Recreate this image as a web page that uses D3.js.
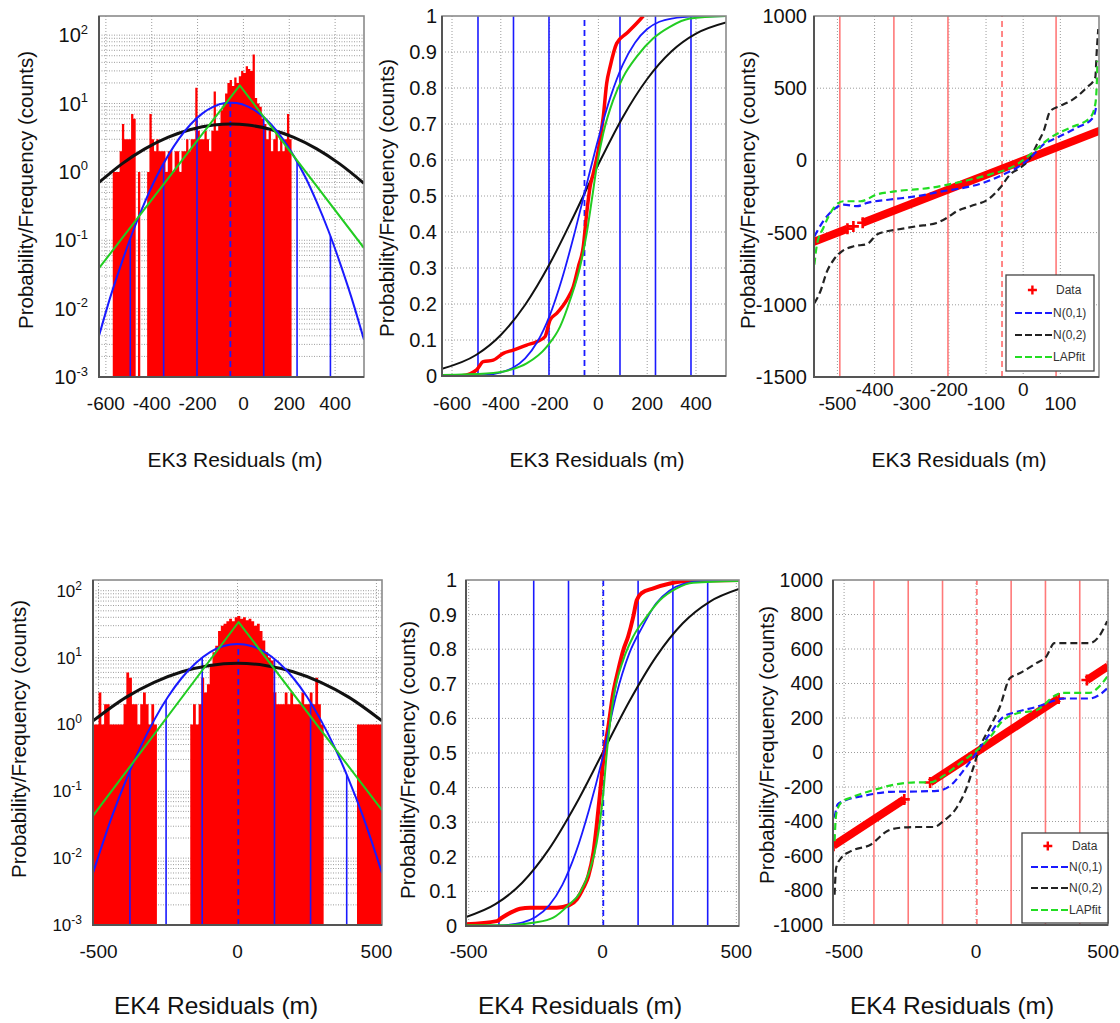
<!DOCTYPE html>
<html>
<head>
<meta charset="utf-8">
<script src="https://cdn.jsdelivr.net/npm/d3@7"></script>
<style>
  body { margin: 0; background: #fff; }
  svg { display: block; font-family: "Liberation Sans", Arial, sans-serif; }
</style>
</head>
<body>
<svg id="fig" width="1120" height="1023"></svg>
<script>
// ---------------- data ----------------

// Residual histograms, counts per 10 m bin
const histBinWidth = 10;
const ek3HistStart = -570;
const ek3Counts = [1,1,1,2,5,3,3,3,7,6, 0,1,0,0,0,1,7,3,2,3, 2,2,2,1,2,2,1,2,2,1,
                   2,2,3,2,3,3,17,4,3,3, 4,3,2,4,15,4,5,8,10,14, 20,22,18,24,20,25,30,28,35,32,
                   30,52,12,10,9,6,5,3,4,2, 3,4,2,3,2,3,7,3];
const ek4HistStart = -520;
const ek4Counts = [1,1,3,1,2,2,1,1,1,1, 1,2,6,5,2,2,1,2,3,2, 1,2,1,
                   0,0,0,0,0,0,0,0,0,0,0,0,
                   1,2,1,2,5,3,4,8,12,15, 25,30,32,35,38,35,40,42,38,40,
                   36,38,35,30,32,25,18,12,10,9, 3,2,2,2,3,2,3,2,2,2, 3,2,2,3,2,5,2,1,
                   0,0,0,0,0,0,0,0,0,0,0,0,
                   1,1,1,1,1,1,1,1,1];

// Sample statistics (m)
const ek3Mean = -57, ek3Sd = 145.5;
const ek4Mean = 3,   ek4Sd = 130;
const sigmaSteps = [-3, -2, -1, 0, 1, 2, 3];

// EK3 fitted densities (counts)
const ek3Norm1X = [-630,-580,-530,-480,-430,-380,-330,-280,-230,-180,-130,-80,-55,-30,20,70,120,170,220,270,320,370,420,470,526];
const ek3Norm1Y = [0.004,0.015,0.048,0.14,0.36,0.84,1.7,3.09,4.97,7.11,9.01,10.15,10.3,10.15,9.01,7.11,4.97,3.09,1.7,0.84,0.36,0.14,0.048,0.015,0.0035];
const ek3Norm2X = [-630,-530,-430,-330,-230,-130,-55,20,120,220,320,420,526];
const ek3Norm2Y = [0.7,1.31,2.17,3.19,4.17,4.84,5.0,4.84,4.17,3.19,2.17,1.31,0.68];
const ek3LapX = [-630,-16,526];
const ek3LapY = [0.039,18.4,0.077];

// EK3 cumulative distributions
const ek3CdfDataX = [-567,-526,-499,-472,-431,-390,-349,-294,-253,-219,-198,-171,-130,-103,-82,-62,-48,-34,-21,0,20,34,48,75,116,157,184];
const ek3CdfDataY = [0,0.006,0.017,0.04,0.044,0.063,0.072,0.086,0.095,0.109,0.156,0.174,0.211,0.248,0.304,0.359,0.452,0.526,0.563,0.628,0.72,0.813,0.859,0.924,0.952,0.98,1.0];
const ek3CdfNorm1X = [-641,-500,-400,-350,-300,-250,-200,-150,-100,-50,0,50,100,150,200,250,300,400,523];
const ek3CdfNorm1Y = [0,0.001,0.01,0.023,0.049,0.095,0.167,0.268,0.391,0.527,0.66,0.776,0.865,0.926,0.964,0.984,0.993,0.999,1];
const ek3CdfNorm2X = [-641,-500,-400,-300,-200,-100,0,100,200,300,400,523];
const ek3CdfNorm2Y = [0.02,0.059,0.114,0.198,0.311,0.446,0.588,0.719,0.825,0.902,0.951,0.982];
const ek3CdfLapX = [-641,-458,-362,-294,-212,-157,-116,-75,-48,-27,-7,20,61,102,157,225,293,375,523];
const ek3CdfLapY = [0.003,0.007,0.017,0.035,0.081,0.137,0.211,0.304,0.396,0.489,0.581,0.674,0.767,0.831,0.887,0.938,0.97,0.993,1.0];

// EK3 quantile comparison
const ek3DataRuns = [[-565,-473],[-432,208]];
const ek3DataSingles = [-457];
const ek3QN1X = [-562,-538,-510,-484,-447,-420,-358,-287,-215,-161,-107,-53,-17,19,55,91,144,188,198];
const ek3QN1Y = [-526,-421,-340,-306,-317,-294,-271,-248,-213,-190,-155,-97,-51,18,111,157,226,296,389];
const ek3QN2X = [-562,-546,-528,-510,-488,-456,-420,-394,-367,-340,-287,-233,-206,-179,-142,-89,-62,-35,-8,19,37,55,73,99,135,171,194,198,202];
const ek3QN2Y = [-989,-908,-769,-688,-630,-595,-579,-514,-491,-479,-456,-433,-399,-352,-317,-260,-190,-97,-51,18,111,203,342,377,424,504,574,759,910];
const ek3QLapX = [-562,-555,-538,-510,-484,-438,-394,-340,-250,-161,-89,-17,19,73,126,180,194,198,200];
const ek3QLapY = [-722,-583,-468,-329,-283,-283,-236,-213,-190,-144,-97,-28,42,157,226,296,389,528,690];

// EK4 fitted densities (counts)
const ek4Norm1X = [-520,-450,-400,-350,-300,-250,-200,-150,-100,-50,0,50,100,150,200,250,300,350,400,450,520];
const ek4Norm1Y = [0.006,0.044,0.151,0.45,1.16,2.59,4.99,8.3,11.96,14.9,16,14.9,11.96,8.3,4.99,2.59,1.16,0.45,0.151,0.044,0.006];
const ek4Norm2X = [-520,-400,-300,-200,-100,0,100,200,300,400,520];
const ek4Norm2Y = [1.13,2.56,4.26,6.13,7.62,8.2,7.62,6.13,4.26,2.56,1.13];
const ek4LapX = [-520,4,520];
const ek4LapY = [0.043,34,0.052];

// EK4 cumulative distributions
const ek4CdfDataX = [-510,-395,-376,-345,-308,-270,-171,-124,-96,-72,-53,-34,-22,-9,3,22,40,59,78,96,115,128,146,190,252,327,510];
const ek4CdfDataY = [0.005,0.014,0.024,0.038,0.05,0.053,0.053,0.06,0.077,0.11,0.144,0.212,0.288,0.385,0.48,0.577,0.673,0.74,0.798,0.837,0.894,0.942,0.962,0.976,0.99,0.998,1.0];
const ek4CdfNorm1X = [-510,-400,-300,-250,-200,-150,-100,-50,0,50,100,150,200,250,300,400,510];
const ek4CdfNorm1Y = [0,0.001,0.01,0.026,0.059,0.119,0.212,0.337,0.485,0.663,0.788,0.866,0.932,0.969,0.988,0.999,1];
const ek4CdfNorm2X = [-510,-400,-300,-200,-100,0,100,200,300,400,510];
const ek4CdfNorm2Y = [0.026,0.063,0.125,0.222,0.351,0.5,0.649,0.778,0.875,0.937,0.974];
const ek4CdfLapX = [-510,-370,-252,-184,-124,-84,-47,-22,3,16,40,78,115,165,215,277,339,510];
const ek4CdfLapY = [0.002,0.002,0.01,0.024,0.0625,0.096,0.163,0.24,0.385,0.5,0.654,0.77,0.837,0.894,0.942,0.976,0.992,0.997];

// EK4 quantile comparison
const ek4DataRuns = [[-540,-272],[-174,313],[420,500]];
const ek4DataSingles = [];
const ek4QN1X = [-536,-524,-499,-424,-323,-223,-148,-98,-48,3,53,103,153,228,303,328,429,466,497];
const ek4QN1Y = [-378,-300,-280,-251,-228,-226,-222,-193,-105,2,109,206,235,264,304,313,313,333,372];
const ek4QN2X = [-536,-530,-511,-474,-398,-336,-286,-223,-160,-123,-73,-35,-10,15,53,90,128,165,228,266,297,328,429,466,497];
const ek4QN2Y = [-825,-669,-611,-572,-533,-455,-436,-432,-432,-397,-319,-202,-86,31,148,264,430,459,518,556,634,634,634,673,761];
const ek4QLapX = [-536,-530,-511,-474,-398,-298,-223,-173,-123,-48,3,53,103,153,228,303,328,429,466,497];
const ek4QLapY = [-514,-358,-290,-261,-222,-183,-173,-173,-134,-47,12,89,187,226,245,333,346,346,381,440];

// Axis ticks
const logExponents = [-3,-2,-1,0,1,2];
const ek3Ticks = [-600,-400,-200,0,200,400];
const ek3QTicks = [-500,-400,-300,-200,-100,0,100];
const ek4Ticks = [-500,0,500];
const cdfTicks = [0,0.1,0.2,0.3,0.4,0.5,0.6,0.7,0.8,0.9,1];
const ek3QYTicks = [-1500,-1000,-500,0,500,1000];
const ek4QYTicks = [-1000,-800,-600,-400,-200,0,200,400,600,800,1000];
const legendItems = [
  {label: "Data",   color: "#ff0000", kind: "plus"},
  {label: "N(0,1)", color: "#1a1aff", kind: "dash"},
  {label: "N(0,2)", color: "#222222", kind: "dash"},
  {label: "LAPfit", color: "#22dd22", kind: "dash"}
];

// ---------------- drawing helpers ----------------
const svg = d3.select("#fig");
const defs = svg.append("defs");
let clipCount = 0;

const BLUE = "#1a1aff", GREEN = "#22cc22", RED = "#ff0000", BLACK = "#111111";
const GRID = "#9c9c9c";
const PINK = "#ff7a7a";

function panel(box, xDomain, yScale) {
  const x = d3.scaleLinear().domain(xDomain).range([box.l, box.r]);
  const id = "plotclip" + (clipCount++);
  defs.append("clipPath").attr("id", id).append("rect")
    .attr("x", box.l).attr("y", box.t)
    .attr("width", box.r - box.l).attr("height", box.b - box.t);
  const g = svg.append("g");
  return {
    x, y: yScale, box,
    grid: g.append("g"),
    marks: g.append("g").attr("clip-path", `url(#${id})`),
    frame: g.append("g")
  };
}

function vGrid(p, values) {
  values.forEach(v => {
    p.grid.append("line")
      .attr("x1", p.x(v)).attr("x2", p.x(v))
      .attr("y1", p.box.t).attr("y2", p.box.b)
      .attr("stroke", GRID).attr("stroke-width", 1).attr("stroke-dasharray", "1,2");
  });
}

function hGrid(p, values, dash) {
  values.forEach(v => {
    p.grid.append("line")
      .attr("x1", p.box.l).attr("x2", p.box.r)
      .attr("y1", p.y(v)).attr("y2", p.y(v))
      .attr("stroke", GRID).attr("stroke-width", 1).attr("stroke-dasharray", dash || "1,2");
  });
}

function logGridValues(p) {
  const [lo, hi] = p.y.domain();
  const out = [];
  for (let e = -3; e <= 2; e++) {
    for (let m = 1; m <= 9; m++) {
      const v = m * Math.pow(10, e);
      if (v >= lo && v <= hi) out.push(v);
    }
  }
  return out;
}

function frame(p) {
  const {l, r, t, b} = p.box;
  p.frame.append("rect").attr("x", l).attr("y", t).attr("width", r - l).attr("height", b - t)
    .attr("fill", "none").attr("stroke", "#8a8a8a").attr("stroke-width", 1.6);
  p.frame.append("path").attr("d", `M${l},${t}V${b}H${r}`)
    .attr("fill", "none").attr("stroke", "#555").attr("stroke-width", 2);
}

function curve(p, xs, ys, color, width, opts = {}) {
  const line = d3.line().x(d => p.x(d[0])).y(d => p.y(d[1]))
    .curve(opts.linear ? d3.curveLinear : d3.curveMonotoneX);
  p.marks.append("path").datum(d3.zip(xs, ys))
    .attr("d", line).attr("fill", "none")
    .attr("stroke", color).attr("stroke-width", width)
    .attr("stroke-linejoin", "round")
    .attr("stroke-dasharray", opts.dash || null);
}

// Histogram bars built as one path so adjacent bins join without seams
function histogram(p, start, counts) {
  const y0 = p.box.b;
  const path = d3.path();
  counts.forEach((c, i) => {
    if (c <= 0) return;
    const a = start + i * histBinWidth;
    const x0 = p.x(a), x1 = p.x(a + histBinWidth);
    path.rect(x0, p.y(c), x1 - x0, y0 - p.y(c));
  });
  p.marks.append("path").attr("d", path.toString()).attr("fill", RED);
}

// log-space interpolation along a density curve
function densityAt(xs, ys, v) {
  for (let i = 0; i < xs.length - 1; i++) {
    if (v >= xs[i] && v <= xs[i + 1]) {
      const f = (v - xs[i]) / (xs[i + 1] - xs[i]);
      return Math.pow(10, Math.log10(ys[i]) * (1 - f) + Math.log10(ys[i + 1]) * f);
    }
  }
  return ys[ys.length - 1];
}

function sigmaLines(p, mean, sd, color, topAt) {
  const [d0, d1] = p.x.domain();
  sigmaSteps.forEach(k => {
    const v = mean + k * sd;
    if (v < d0 || v > d1) return;
    const yTop = topAt ? topAt(v) : p.box.t;
    p.marks.append("line")
      .attr("x1", p.x(v)).attr("x2", p.x(v))
      .attr("y1", p.box.b).attr("y2", yTop)
      .attr("stroke", color).attr("stroke-width", k === 0 ? 1.8 : 1.6)
      .attr("stroke-dasharray", k === 0 ? "6,4" : null);
  });
}

function plusMark(g, cx, cy, size, width) {
  g.append("path")
    .attr("d", `M${cx - size},${cy}H${cx + size}M${cx},${cy - size}V${cy + size}`)
    .attr("stroke", RED).attr("stroke-width", width).attr("fill", "none");
}

function dataBand(p, runs, singles) {
  runs.forEach(([a, b]) => {
    p.marks.append("line")
      .attr("x1", p.x(a)).attr("y1", p.y(a))
      .attr("x2", p.x(b)).attr("y2", p.y(b))
      .attr("stroke", RED).attr("stroke-width", 8);
    plusMark(p.marks, p.x(a), p.y(a), 5.5, 2.6);
    plusMark(p.marks, p.x(b), p.y(b), 5.5, 2.6);
  });
  singles.forEach(v => plusMark(p.marks, p.x(v), p.y(v), 5.5, 2.6));
}

function xTickLabels(p, ticks, cy, size, rowOffset) {
  ticks.forEach((v, i) => {
    let x = p.x(v), anchor = "middle";
    // keep a label that sits on the figure's right edge inside the page
    if (x + size > 1119) { x = 1119; anchor = "end"; }
    svg.append("text")
      .attr("x", x).attr("y", cy + (rowOffset ? rowOffset(i) : 0))
      .attr("dy", "0.35em").attr("text-anchor", anchor)
      .attr("font-size", size).attr("fill", "#111")
      .text(String(v));
  });
}

function yTickLabels(p, ticks, xRight, size) {
  ticks.forEach(v => {
    svg.append("text")
      .attr("x", xRight).attr("y", p.y(v))
      .attr("dy", "0.35em").attr("text-anchor", "end")
      .attr("font-size", size).attr("fill", "#111")
      .text(String(v));
  });
}

function logTickLabels(p, xRight, size, supSize) {
  logExponents.forEach(e => {
    const t = svg.append("text")
      .attr("x", xRight).attr("y", p.y(Math.pow(10, e)))
      .attr("text-anchor", "end").attr("font-size", size).attr("fill", "#111");
    t.append("tspan").attr("dy", "0.35em").text("10");
    t.append("tspan").attr("dy", -size * 0.42).attr("font-size", supSize).text(String(e));
  });
}

function yTitle(cx, cy, size) {
  svg.append("text")
    .attr("transform", `translate(${cx},${cy}) rotate(-90)`)
    .attr("text-anchor", "middle").attr("dominant-baseline", "central")
    .attr("font-size", size).attr("fill", "#111")
    .text("Probability/Frequency (counts)");
}

function xTitle(cx, cy, size, text) {
  svg.append("text").attr("x", cx).attr("y", cy)
    .attr("dy", "0.35em").attr("text-anchor", "middle")
    .attr("font-size", size).attr("fill", "#111").text(text);
}

function legend(box, rowYs) {
  const g = svg.append("g");
  g.append("rect").attr("x", box.x).attr("y", box.y).attr("width", box.w).attr("height", box.h)
    .attr("fill", "#fff").attr("stroke", "#444").attr("stroke-width", 1.3);
  legendItems.forEach((it, i) => {
    const cy = rowYs[i];
    if (it.kind === "plus") {
      plusMark(g, box.x + box.w * 0.3, cy, 4.5, 2.4);
    } else {
      g.append("line").attr("x1", box.x + 9).attr("x2", box.x + 46)
        .attr("y1", cy).attr("y2", cy)
        .attr("stroke", it.color).attr("stroke-width", 2).attr("stroke-dasharray", "7,3");
    }
    g.append("text").attr("x", it.kind === "plus" ? box.x + 50 : box.x + 47).attr("y", cy)
      .attr("dy", "0.35em").attr("font-size", 12)
      .attr("font-family", "'Liberation Sans Narrow','Arial Narrow','Liberation Sans',Arial,sans-serif")
      .attr("fill", "#333").text(it.label);
  });
}

// ---------------- EK3: histogram with fitted densities ----------------
{
  const box = {l: 99, r: 364, t: 16, b: 377};
  const y = d3.scaleLog().domain([1e-3, Math.pow(10, 2.28)]).range([box.b, box.t]);
  const p = panel(box, [-630, 526], y);
  hGrid(p, logGridValues(p), "1,1.5");
  vGrid(p, ek3Ticks);
  histogram(p, ek3HistStart, ek3Counts);
  sigmaLines(p, ek3Mean, ek3Sd, BLUE, v => p.y(densityAt(ek3Norm1X, ek3Norm1Y, v)));
  curve(p, ek3Norm2X, ek3Norm2Y, BLACK, 3);
  curve(p, ek3Norm1X, ek3Norm1Y, BLUE, 2);
  curve(p, ek3LapX, ek3LapY, GREEN, 2, {linear: true});
  frame(p);
  logTickLabels(p, 88, 20, 13);
  xTickLabels(p, ek3Ticks, 403, 19);
  yTitle(25, 190, 20.5);
  xTitle(235, 460, 21, "EK3 Residuals (m)");
}

// ---------------- EK3: cumulative distribution ----------------
{
  const box = {l: 442, r: 726, t: 16, b: 376};
  const y = d3.scaleLinear().domain([0, 1]).range([box.b, box.t]);
  const p = panel(box, [-641, 523], y);
  hGrid(p, cdfTicks.slice(1, -1));
  vGrid(p, ek3Ticks);
  sigmaLines(p, ek3Mean, ek3Sd, BLUE, null);
  curve(p, ek3CdfNorm2X, ek3CdfNorm2Y, BLACK, 2);
  curve(p, ek3CdfDataX, ek3CdfDataY, RED, 3.5);
  curve(p, ek3CdfNorm1X, ek3CdfNorm1Y, BLUE, 1.8);
  curve(p, ek3CdfLapX, ek3CdfLapY, GREEN, 2);
  frame(p);
  yTickLabels(p, cdfTicks, 437, 20);
  xTickLabels(p, ek3Ticks, 403, 19);
  yTitle(386, 198, 20.5);
  xTitle(597, 460, 21, "EK3 Residuals (m)");
}

// ---------------- EK3: quantile comparison ----------------
{
  const box = {l: 814, r: 1099, t: 16, b: 377};
  const y = d3.scaleLinear().domain([-1500, 1000]).range([box.b, box.t]);
  const p = panel(box, [-563, 204], y);
  hGrid(p, [-1000, -500, 0, 500]);
  vGrid(p, ek3QTicks);
  sigmaLines(p, ek3Mean, ek3Sd, PINK, null);
  dataBand(p, ek3DataRuns, ek3DataSingles);
  curve(p, ek3QN2X, ek3QN2Y, "#222", 2.2, {dash: "7,4"});
  curve(p, ek3QN1X, ek3QN1Y, BLUE, 2.2, {dash: "7,4"});
  curve(p, ek3QLapX, ek3QLapY, "#22dd22", 2.2, {dash: "7,4"});
  frame(p);
  yTickLabels(p, ek3QYTicks, 807, 20);
  xTickLabels(p, ek3QTicks, 403, 19, i => (i % 2 === 1 ? -14 : 0));
  yTitle(747, 190, 20.5);
  xTitle(959, 460, 21, "EK3 Residuals (m)");
  legend({x: 1006, y: 275, w: 88, h: 96}, [290, 313, 335, 357]);
}

// ---------------- EK4: histogram with fitted densities ----------------
{
  const box = {l: 93, r: 382, t: 580, b: 925};
  const y = d3.scaleLog().domain([1e-3, Math.pow(10, 2.16)]).range([box.b, box.t]);
  const p = panel(box, [-520, 520], y);
  hGrid(p, logGridValues(p), "1,1.5");
  vGrid(p, ek4Ticks);
  histogram(p, ek4HistStart, ek4Counts);
  sigmaLines(p, ek4Mean, ek4Sd, BLUE, v => p.y(densityAt(ek4Norm1X, ek4Norm1Y, v)));
  curve(p, ek4Norm2X, ek4Norm2Y, BLACK, 3);
  curve(p, ek4Norm1X, ek4Norm1Y, BLUE, 2);
  curve(p, ek4LapX, ek4LapY, GREEN, 2, {linear: true});
  frame(p);
  logTickLabels(p, 82, 17, 12);
  xTickLabels(p, ek4Ticks, 951, 19);
  yTitle(18, 739, 20.5);
  xTitle(216, 1005, 24.5, "EK4 Residuals (m)");
}

// ---------------- EK4: cumulative distribution ----------------
{
  const box = {l: 466, r: 739, t: 580, b: 926};
  const y = d3.scaleLinear().domain([0, 1]).range([box.b, box.t]);
  const p = panel(box, [-510, 510], y);
  hGrid(p, cdfTicks.slice(1, -1));
  vGrid(p, ek4Ticks);
  sigmaLines(p, ek4Mean, ek4Sd, BLUE, null);
  curve(p, ek4CdfNorm2X, ek4CdfNorm2Y, BLACK, 2);
  curve(p, ek4CdfDataX, ek4CdfDataY, RED, 4);
  curve(p, ek4CdfNorm1X, ek4CdfNorm1Y, BLUE, 1.8);
  curve(p, ek4CdfLapX, ek4CdfLapY, GREEN, 2);
  frame(p);
  yTickLabels(p, cdfTicks, 457, 20);
  xTickLabels(p, ek4Ticks, 951, 19);
  yTitle(407, 760, 20.5);
  xTitle(580, 1005, 24.5, "EK4 Residuals (m)");
}

// ---------------- EK4: quantile comparison ----------------
{
  const box = {l: 833, r: 1108, t: 580, b: 925};
  const y = d3.scaleLinear().domain([-1000, 1000]).range([box.b, box.t]);
  const p = panel(box, [-542, 500], y);
  hGrid(p, ek4QYTicks.slice(1, -1));
  vGrid(p, ek4Ticks);
  sigmaLines(p, ek4Mean, ek4Sd, PINK, null);
  dataBand(p, ek4DataRuns, ek4DataSingles);
  curve(p, ek4QN2X, ek4QN2Y, "#222", 2.2, {dash: "7,4"});
  curve(p, ek4QN1X, ek4QN1Y, BLUE, 2.2, {dash: "7,4"});
  curve(p, ek4QLapX, ek4QLapY, "#22dd22", 2.2, {dash: "7,4"});
  frame(p);
  yTickLabels(p, ek4QYTicks, 823, 19.5);
  xTickLabels(p, ek4Ticks, 951, 19);
  yTitle(766, 745, 20.5);
  xTitle(952, 1005, 24.5, "EK4 Residuals (m)");
  legend({x: 1022, y: 833, w: 86, h: 90}, [846, 867, 888, 910]);
}
</script>
</body>
</html>
